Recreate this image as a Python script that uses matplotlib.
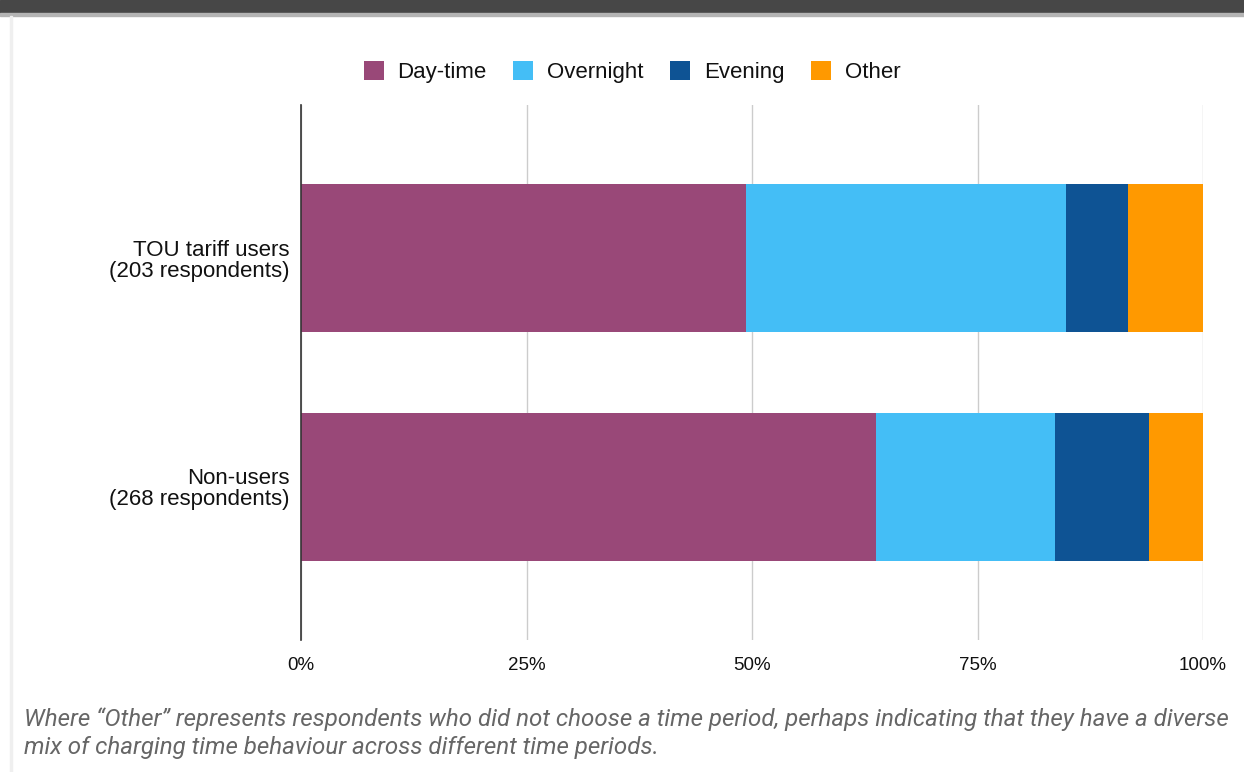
import matplotlib.pyplot as plt
from matplotlib.patches import Rectangle
import numpy as np

# shares of respondents (%) by usual charging time
groups = ["TOU tariff users\n(203 respondents)", "Non-users\n(268 respondents)"]
periods = ["Day-time", "Overnight", "Evening", "Other"]
day_time = [49.3, 63.8]
overnight = [35.5, 19.8]
evening = [6.9, 10.4]
other = [8.4, 6.0]
colors = ["#994878", "#44bef6", "#0e5394", "#ff9900"]

plt.rcParams["font.family"] = ["Liberation Sans", "DejaVu Sans"]

fig = plt.figure(figsize=(12.44, 7.72), dpi=100)
W, H = 1244, 772

# page frame: dark header strip and thin borders
fig.patches.append(Rectangle((0, 1 - 13 / H), 1, 13 / H, transform=fig.transFigure,
                             color="#474747", zorder=0))
fig.patches.append(Rectangle((0, 1 - 16 / H), 1, 3 / H, transform=fig.transFigure,
                             color="#b4b4b4", zorder=0))
fig.patches.append(Rectangle((10 / W, 0), 2 / W, 1 - 16 / H, transform=fig.transFigure,
                             color="#efefef", zorder=0))

ax = fig.add_axes([301 / W, 1 - 640 / H, 902 / W, 535 / H])
y = np.arange(len(groups))
left = np.zeros(len(groups))
handles = []
for name, vals, c in zip(periods, [day_time, overnight, evening, other], colors):
    b = ax.barh(y, vals, left=left, height=0.65, color=c, label=name, zorder=2)
    handles.append(b)
    left += np.array(vals)

ax.set_xlim(0, 100)
ax.set_ylim(1.67, -0.67)
ax.set_yticks(y)
ax.set_yticklabels(groups, fontsize=16, color="#111111", linespacing=1.0)
ax.set_xticks([0, 25, 50, 75, 100])
ax.set_xticklabels(["0%", "25%", "50%", "75%", "100%"], fontsize=13.5, color="#111111")
ax.tick_params(length=0)
ax.tick_params(axis="x", pad=12)
ax.tick_params(axis="y", pad=8)
ax.grid(axis="x", color="#cccccc", linewidth=1, zorder=0)
for s in ["top", "right", "bottom"]:
    ax.spines[s].set_visible(False)
ax.spines["left"].set_color("#333333")
ax.spines["left"].set_linewidth(1.2)
ax.spines["left"].set_zorder(3)

leg = fig.legend(handles=handles, labels=periods, loc="center", ncol=4,
                 bbox_to_anchor=(632 / W, 1 - 72 / H), frameon=False,
                 fontsize=16, handlelength=0.9, handleheight=0.9,
                 handletextpad=0.62, columnspacing=1.2)
for t in leg.get_texts():
    t.set_color("#111111")

caption = ("Where \u201cOther\u201d represents respondents who did not choose a time period, perhaps indicating that they have a diverse\n"
           "mix of charging time behaviour across different time periods.")
fig.text(24 / W, 1 - 733 / H, caption, fontsize=17.4, style="italic", color="#666666",
         family=["Roboto", "DejaVu Sans"], va="center", ha="left", linespacing=1.3)

fig.savefig("out.png", dpi=100)
